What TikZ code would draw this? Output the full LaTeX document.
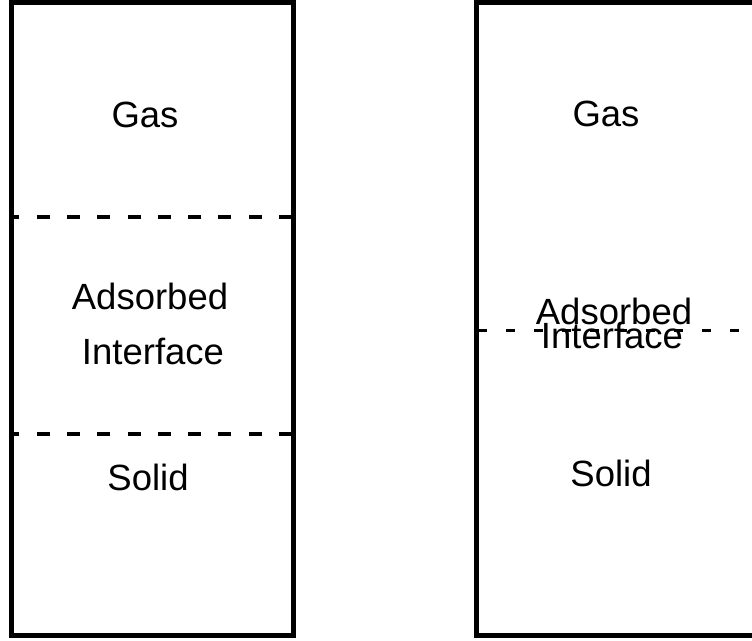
\documentclass[tikz,border=0pt]{standalone}
\usepackage{fontspec}
\setmainfont{Liberation Sans}
\begin{document}
\begin{tikzpicture}[x={(1pt,0)}, y={(0,-1pt)},
  wall/.style={draw=black, line width=5pt},
  layerline/.style={draw=black, line width=3.5pt, dash pattern=on 13pt off 17.3pt},
  thinlayer/.style={draw=black, line width=3pt, dash pattern=on 9pt off 19pt},
  phase/.style={anchor=base, inner sep=0pt, font=\fontsize{36.5}{36.5}\selectfont}]
  \clip (0,0) rectangle (752,640);
  % left column: three layers
  \draw[wall] (11.5,2) rectangle (293.5,635);
  \coordinate (l1a) at (12,217);
  \coordinate (l1b) at (292,217);
  \coordinate (l2a) at (12,434);
  \coordinate (l2b) at (292,434);
  \draw[layerline] (l1b) -- (l1a);
  \draw[layerline] (l2b) -- (l2a);
  \node[phase] (gasL) at (145,127) {Gas};
  \node[phase] (adsL) at (150,309) {Adsorbed};
  \node[phase] (intL) at (153,364) {Interface};
  \node[phase] (solL) at (148,490) {Solid};
  % right column: collapsed interface
  \draw[wall] (476,2) rectangle (800,635);
  \coordinate (r1a) at (478,330);
  \coordinate (r1b) at (760,330);
  \draw[thinlayer] (r1a) -- (r1b);
  \node[phase] (gasR) at (606,126.5) {Gas};
  \node[phase] (adsR) at (614,324) {Adsorbed};
  \node[phase] (intR) at (612,348) {Interface};
  \node[phase] (solR) at (611,486) {Solid};
\end{tikzpicture}
\end{document}
